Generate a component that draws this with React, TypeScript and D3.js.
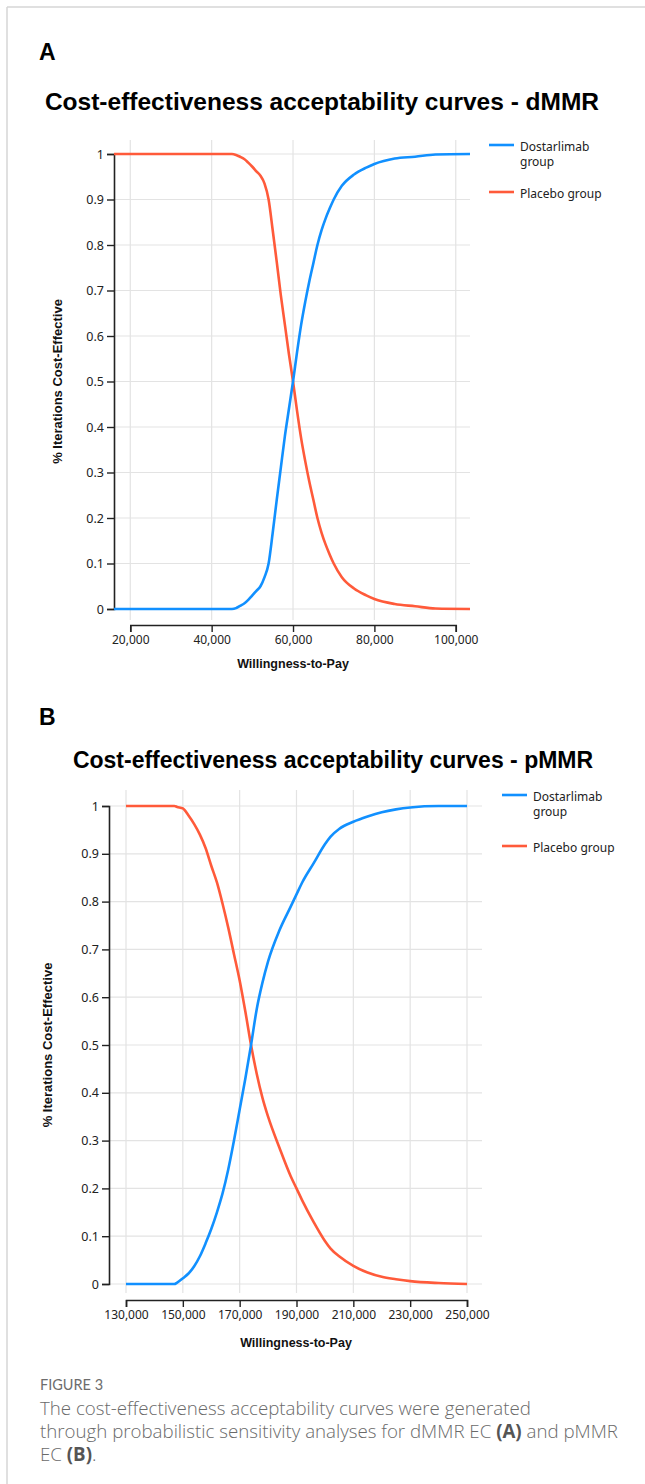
import { useEffect, useRef } from "react";
import * as d3 from "d3";

// Panel A (dMMR) - willingness-to-pay points and probability of being cost-effective
const wtpA = [16000, 40000, 45000, 46000, 47000, 48000, 49000, 50000, 51000, 52000, 53000, 54000, 55000, 56000, 57000, 58000, 59000, 60000, 61000, 62000, 63000, 64000, 65000, 66000, 67000, 68000, 69000, 70000, 72000, 75000, 78000, 80000, 85000, 90000, 95000, 103500];
const dostarA = [0, 0, 0, 0.002, 0.007, 0.012, 0.02, 0.03, 0.04, 0.05, 0.07, 0.1, 0.167, 0.24, 0.31, 0.38, 0.44, 0.5, 0.565, 0.625, 0.675, 0.72, 0.76, 0.8, 0.832, 0.858, 0.88, 0.9, 0.93, 0.955, 0.97, 0.978, 0.99, 0.994, 0.999, 1];
const placeboA = [1, 1, 1, 0.998, 0.994, 0.989, 0.981, 0.972, 0.962, 0.952, 0.935, 0.9, 0.833, 0.763, 0.69, 0.625, 0.56, 0.5, 0.435, 0.375, 0.325, 0.28, 0.24, 0.2, 0.168, 0.142, 0.12, 0.1, 0.07, 0.045, 0.03, 0.022, 0.011, 0.006, 0.001, 0];
const xTicksA = [20000, 40000, 60000, 80000, 100000];

// Panel B (pMMR)
const wtpB = [130000, 145000, 147000, 148000, 150000, 152000, 154000, 156000, 158000, 160000, 162000, 164000, 166000, 168000, 170000, 172000, 174000, 176000, 178000, 180000, 184000, 188000, 190000, 192000, 196000, 200000, 202000, 205000, 210000, 215000, 220000, 225000, 230000, 240000, 250000];
const dostarB = [0, 0, 0, 0.003, 0.012, 0.022, 0.037, 0.058, 0.085, 0.115, 0.15, 0.19, 0.24, 0.3, 0.365, 0.43, 0.5, 0.575, 0.63, 0.675, 0.74, 0.79, 0.815, 0.84, 0.88, 0.92, 0.936, 0.952, 0.967, 0.978, 0.987, 0.993, 0.997, 1, 1];
const placeboB = [1, 1, 1, 0.998, 0.995, 0.98, 0.962, 0.94, 0.912, 0.875, 0.84, 0.795, 0.745, 0.69, 0.635, 0.57, 0.5, 0.44, 0.39, 0.35, 0.285, 0.225, 0.2, 0.175, 0.13, 0.09, 0.074, 0.058, 0.038, 0.024, 0.015, 0.01, 0.006, 0.002, 0];
const xTicksB = [130000, 150000, 170000, 190000, 210000, 230000, 250000];

const yTicks = [0, 0.1, 0.2, 0.3, 0.4, 0.5, 0.6, 0.7, 0.8, 0.9, 1];
const seriesNames = ["Dostarlimab group", "Placebo group"];

const BLUE = "#1190ff";
const RED = "#ff5a3a";
const GRID = "#e3e3e3";
const ARIAL = "'Liberation Sans', Arial, sans-serif";
const SEGOE = "'Noto Sans', sans-serif";

type PanelProps = {
  letter: string;
  title: string;
  wtp: number[];
  dostar: number[];
  placebo: number[];
  xTicks: number[];
  lay: any;
};

function Panel({ letter, title, wtp, dostar, placebo, xTicks, lay }: PanelProps) {
  const yAxisRef = useRef<SVGGElement>(null);
  const xAxisRef = useRef<SVGGElement>(null);

  const x = d3.scaleLinear().domain(lay.xDomain).range(lay.xRange);
  const y = d3.scaleLinear().domain([0, 1]).range(lay.yRange);
  // the bottom axis only spans the labelled ticks
  const xAxisScale = d3.scaleLinear()
    .domain(d3.extent(xTicks) as [number, number])
    .range([x(xTicks[0]), x(xTicks[xTicks.length - 1])]);

  useEffect(() => {
    const g = d3.select(yAxisRef.current);
    g.selectAll("*").remove();
    g.call(d3.axisLeft(y).tickValues(yTicks).tickFormat(d3.format("")).tickSize(7).tickSizeOuter(7).tickPadding(3));
    g.select(".domain").attr("stroke", "#222").attr("stroke-width", 1.6);
    g.selectAll(".tick line").attr("stroke", "#222").attr("stroke-width", 1.4);
    g.selectAll("text").attr("font-family", SEGOE).attr("font-size", 12.5).attr("fill", "#222");

    const gx = d3.select(xAxisRef.current);
    gx.selectAll("*").remove();
    gx.call(d3.axisBottom(xAxisScale).tickValues(xTicks).tickFormat(d3.format(",")).tickSize(7).tickSizeOuter(7).tickPadding(3));
    gx.select(".domain").attr("stroke", "#222").attr("stroke-width", 1.6);
    gx.selectAll(".tick line").attr("stroke", "#222").attr("stroke-width", 1.4);
    gx.selectAll("text").attr("font-family", SEGOE).attr("font-size", 12).attr("fill", "#222");
  }, [lay]);

  const pts = (vals: number[]) => wtp.map((w, i) => [w, vals[i]] as [number, number]);
  const line = d3.line<[number, number]>()
    .x(d => x(d[0]))
    .y(d => y(d[1]))
    .curve(d3.curveMonotoneX);

  const lg = lay.legend;

  return (
    <g>
      <text x={39} y={lay.letterY} fontFamily={ARIAL} fontWeight="bold" fontSize={23} fill="#000">{letter}</text>
      <text x={lay.titleX} y={lay.titleY} textAnchor="middle" fontFamily={ARIAL} fontWeight="bold" fontSize={lay.titleSize} fill="#000">{title}</text>

      {/* grid */}
      {yTicks.map(t => (
        <line key={"h" + t} x1={lay.yAxisX} x2={lay.gridRight} y1={y(t)} y2={y(t)} stroke={GRID} strokeWidth={1.2} />
      ))}
      {xTicks.map(t => (
        <line key={"v" + t} x1={x(t)} x2={x(t)} y1={lay.gridTop} y2={lay.gridBottom} stroke={GRID} strokeWidth={1.2} />
      ))}

      <g ref={yAxisRef} transform={`translate(${lay.yAxisX},0)`} />
      <g ref={xAxisRef} transform={`translate(0,${lay.xAxisY})`} />

      <path d={line(pts(placebo)) || ""} fill="none" stroke={RED} strokeWidth={2.6} />
      <path d={line(pts(dostar)) || ""} fill="none" stroke={BLUE} strokeWidth={2.6} />

      <text transform={`translate(${lay.yTitleX},${(lay.yRange[0] + lay.yRange[1]) / 2}) rotate(-90)`} textAnchor="middle" dy="0.35em" fontFamily={ARIAL} fontWeight="bold" fontSize={13} fill="#111">% Iterations Cost-Effective</text>
      <text x={lay.xTitleX} y={lay.xTitleY} textAnchor="middle" fontFamily={ARIAL} fontWeight="bold" fontSize={12.5} fill="#111">Willingness-to-Pay</text>

      {/* legend */}
      <line x1={lg.x} x2={lg.x + 25} y1={lg.y} y2={lg.y} stroke={BLUE} strokeWidth={2.6} />
      <text x={lg.x + 31} y={lg.y + 6} fontFamily={SEGOE} fontSize={12} fill="#222">Dostarlimab</text>
      <text x={lg.x + 31} y={lg.y + 21} fontFamily={SEGOE} fontSize={12} fill="#222">group</text>
      <line x1={lg.x} x2={lg.x + 25} y1={lg.y + lg.gap} y2={lg.y + lg.gap} stroke={RED} strokeWidth={2.6} />
      <text x={lg.x + 31} y={lg.y + lg.gap + 6} fontFamily={SEGOE} fontSize={12} fill="#222">{seriesNames[1]}</text>
    </g>
  );
}

const layA = {
  letterY: 60, titleX: 322, titleY: 110, titleSize: 24.5,
  xDomain: [16000, 103500], xRange: [114, 470], yRange: [609, 154],
  yAxisX: 114, gridRight: 470, gridTop: 140, gridBottom: 620, xAxisY: 625,
  yTitleX: 57, xTitleX: 293, xTitleY: 668,
  legend: { x: 489, y: 145, gap: 47 },
};

const layB = {
  letterY: 725, titleX: 333, titleY: 768, titleSize: 23,
  xDomain: [130000, 250000], xRange: [126, 467], yRange: [1284, 806],
  yAxisX: 109, gridRight: 482, gridTop: 790, gridBottom: 1293, xAxisY: 1300,
  yTitleX: 47, xTitleX: 296, xTitleY: 1347,
  legend: { x: 502, y: 795, gap: 51 },
};

export default function App() {
  const capFont = "'Open Sans', 'Noto Sans', sans-serif";
  return (
    <svg width={645} height={1484} style={{ position: "absolute", left: 0, top: 0, background: "#fff" }}>
      <rect x={0} y={0} width={645} height={1484} fill="#fff" />
      <line x1={7} x2={645} y1={7} y2={7} stroke="#d6d6d6" strokeWidth={1.5} />
      <line x1={7} x2={7} y1={7} y2={1484} stroke="#d6d6d6" strokeWidth={1.5} />

      <Panel letter="A" title="Cost-effectiveness acceptability curves - dMMR" wtp={wtpA} dostar={dostarA} placebo={placeboA} xTicks={xTicksA} lay={layA} />
      <Panel letter="B" title="Cost-effectiveness acceptability curves - pMMR" wtp={wtpB} dostar={dostarB} placebo={placeboB} xTicks={xTicksB} lay={layB} />

      <text x={40} y={1390} fontFamily="Lato, sans-serif" fontSize={14.5} fill="#6d6d6d">FIGURE 3</text>
      <g fontFamily={capFont} fontSize={18.7} fill="#6a6a6a" fontWeight={300}>
        <text x={40} y={1415}>The cost-effectiveness acceptability curves were generated</text>
        <text x={40} y={1438}>through probabilistic sensitivity analyses for dMMR EC <tspan fontWeight="bold" fill="#555">(A)</tspan> and pMMR</text>
        <text x={40} y={1461}>EC <tspan fontWeight="bold" fill="#555">(B)</tspan>.</text>
      </g>
    </svg>
  );
}
